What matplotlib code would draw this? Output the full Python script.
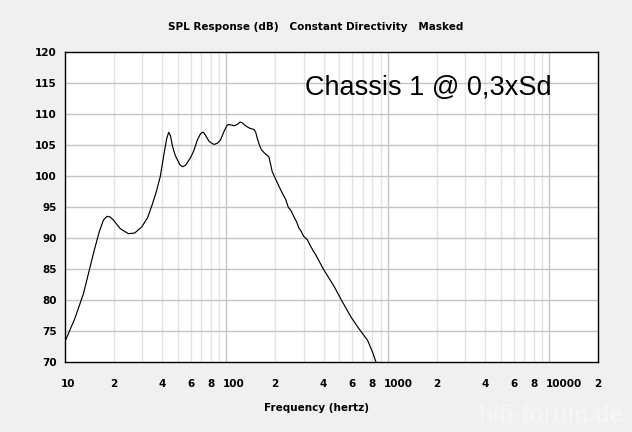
import numpy as np
import matplotlib.pyplot as plt
from matplotlib.transforms import ScaledTranslation

# frequency (Hz) and SPL (dB)
freq = [10, 11.5, 13, 15.2, 16.3, 17.3, 18.2, 19.0, 19.8, 22, 24.7, 27, 29.9, 32.5, 34.6, 36.8,
        38.9, 41.0, 42.6, 43.9, 45.0, 46.3, 48.2, 51.5, 53.5, 55.6, 58, 60, 62.6, 66, 69,
        71, 72.3, 74, 78, 82, 84.2, 88, 91.8, 97, 101, 103.3, 108, 112, 118, 121, 125, 130,
        135, 139.6, 148, 152, 155, 161, 165, 172, 183, 188, 192, 200, 210, 222, 232, 242,
        250, 262, 272, 281, 290, 300, 317, 330, 345, 357, 400, 464, 520, 589, 660, 748,
        800, 842]
spl = [73.3, 77.0, 81.0, 88.1, 91.0, 92.9, 93.5, 93.4, 93.0, 91.5, 90.7, 90.8, 91.8, 93.3, 95.3, 97.5,
       99.9, 103.5, 106.0, 107.05, 106.5, 104.8, 103.3, 101.8, 101.5, 101.7, 102.4, 103.0, 104.0, 105.8, 106.8,
       107.05, 107.0, 106.6, 105.6, 105.2, 105.1, 105.3, 105.8, 107.3, 108.2, 108.3, 108.2, 108.1, 108.4, 108.7, 108.6, 108.2,
       107.9, 107.7, 107.5, 107.0, 106.1, 104.8, 104.2, 103.7, 103.1, 101.8, 100.7, 99.7, 98.5, 97.2, 96.3, 94.9,
       94.5, 93.4, 92.6, 91.6, 91.1, 90.3, 89.7, 88.8, 87.9, 87.3, 84.9, 82.2, 79.8, 77.3, 75.4, 73.5,
       71.7, 70.05]

yticks = list(range(70, 121, 5))
xticks = [10, 20, 40, 60, 80, 100, 200, 400, 600, 800, 1000, 2000, 4000, 6000, 8000, 10000, 20000]
xlabels = ['10', '2', '4', '6', '8', '100', '2', '4', '6', '8', '1000', '2', '4', '6', '8', '10000', '2']

bg = '#f0f0f0'
fig = plt.figure(figsize=(6.32, 4.32), dpi=100, facecolor=bg)
ax = fig.add_axes([65 / 632, 1 - 362 / 432, 533 / 632, 310 / 432])
ax.set_facecolor('white')

ax.set_xscale('log')
ax.set_xlim(10, 20000)
ax.set_ylim(70, 120)

# grid: light minor verticals, darker decades and horizontals
for dec in [10, 100, 1000, 10000]:
    for m in range(2, 10):
        if dec * m < 20000:
            ax.axvline(dec * m, color='#e3e3e3', lw=1, zorder=0)
for dec in [100, 1000, 10000]:
    ax.axvline(dec, color='#c4c4c4', lw=1, zorder=0)
for y in yticks[1:-1]:
    ax.axhline(y, color='#c4c4c4', lw=1, zorder=0)

ax.plot(freq, spl, color='black', lw=0.85, zorder=3)

for s in ax.spines.values():
    s.set_color('black')
    s.set_linewidth(1)

ax.set_yticks(yticks)
ax.set_yticklabels([str(v) for v in yticks], fontsize=7.5, fontweight='bold')
ax.set_xticks(xticks)
ax.set_xticklabels(xlabels, fontsize=7.5, fontweight='bold')
ax.minorticks_off()
ax.tick_params(length=0, pad=6)
ax.tick_params(axis='x', pad=12)
for lab in ax.get_xticklabels():
    if len(lab.get_text()) > 1:
        lab.set_ha('left')
        lab.set_transform(lab.get_transform() + ScaledTranslation(-4 / 100, 0, fig.dpi_scale_trans))

fig.text(0.5, 1 - 27 / 432, 'SPL Response (dB)   Constant Directivity   Masked',
         ha='center', va='center', fontsize=7.5, fontweight='bold')
fig.text(316 / 632, 1 - 408 / 432, 'Frequency (hertz)', ha='center', va='center',
         fontsize=7.5, fontweight='bold')
ax.text(305 / 632, 1 - 88 / 432, 'Chassis 1 @ 0,3xSd', transform=fig.transFigure,
        ha='left', va='center', fontsize=19.5, family='Liberation Sans')
fig.text(0.985, 1 - 415 / 432, 'hifi-forum.de', ha='right', va='center',
         fontsize=17, fontweight='bold', color='#f5f5f5', family='Liberation Sans')

fig.savefig('out.png', dpi=100, facecolor=bg)
